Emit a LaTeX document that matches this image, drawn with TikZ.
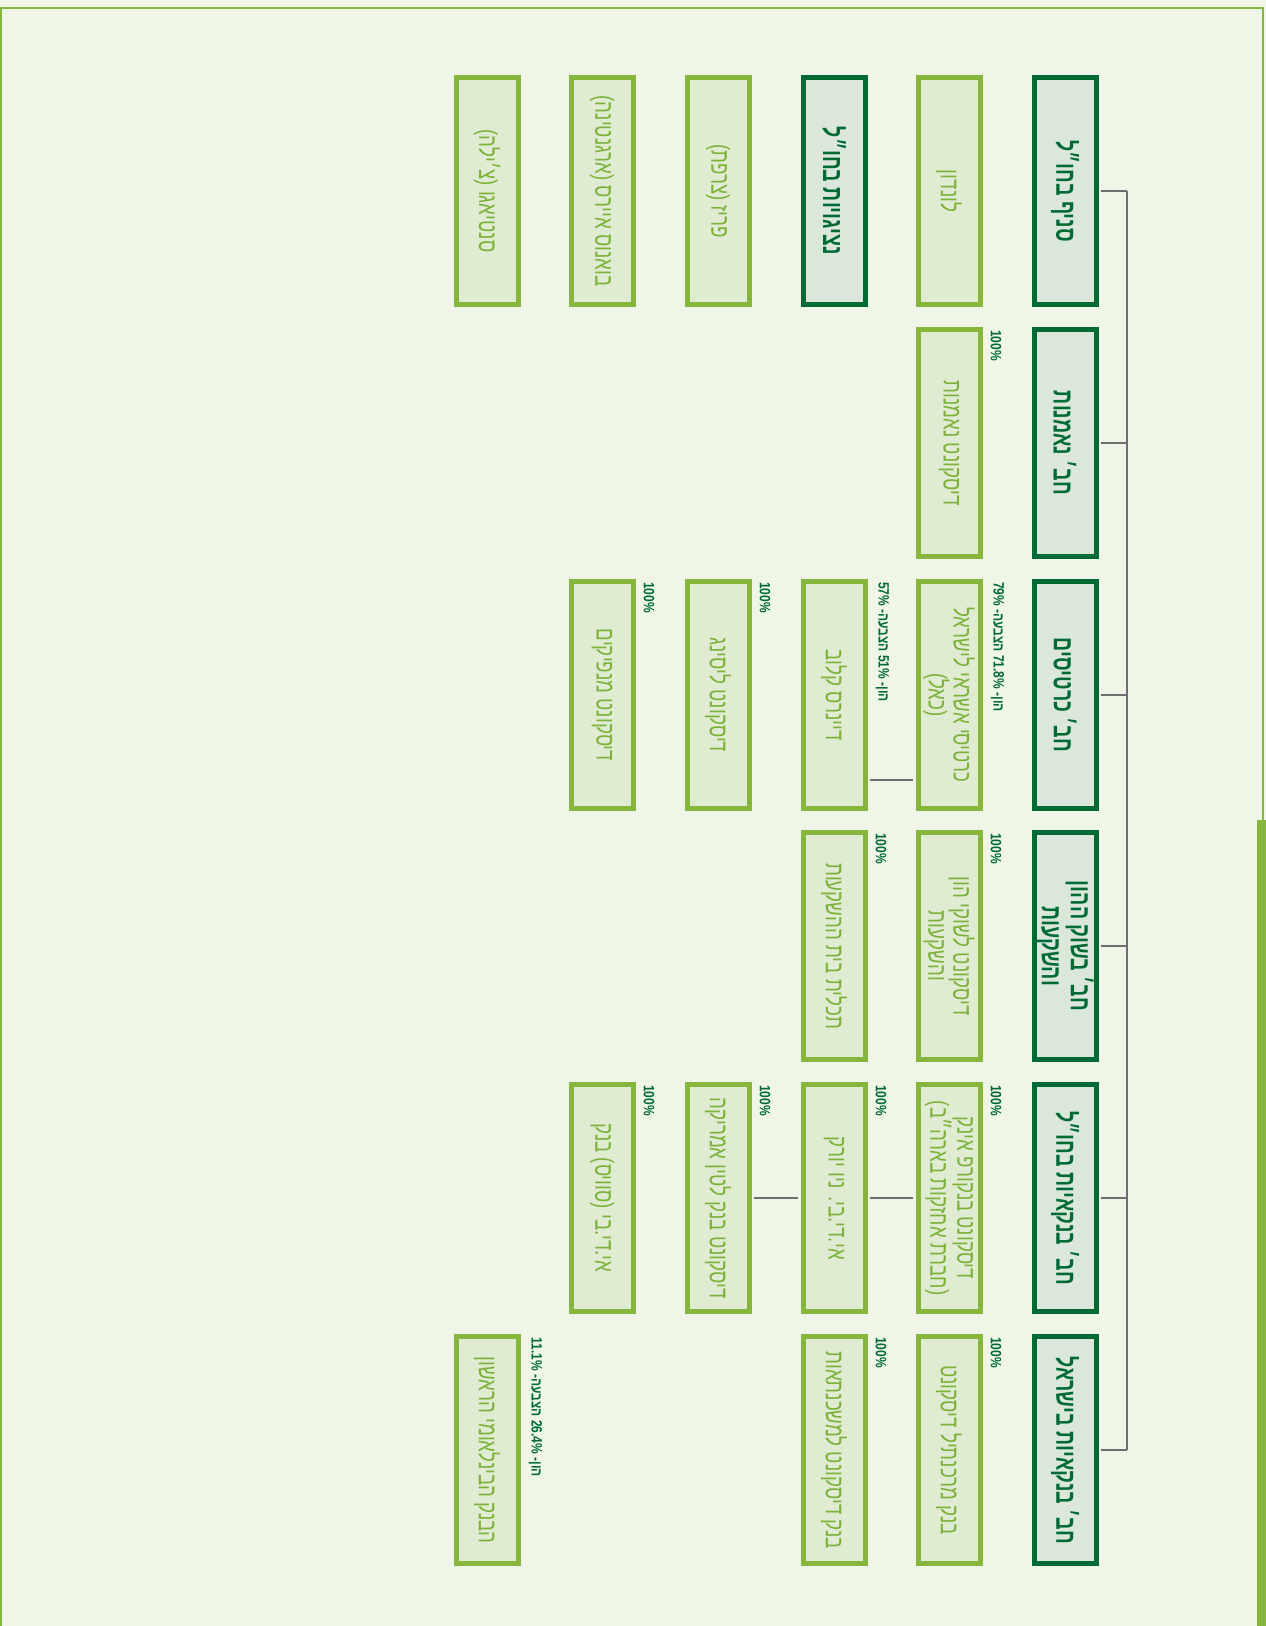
\documentclass[tikz,border=0pt]{standalone}
\usepackage{fontspec}
\usepackage{tikz}
\usetikzlibrary{positioning, calc}
\TeXXeTstate=1
\newfontfamily\hebfont[Script=Hebrew,FakeStretch=0.72]{Liberation Sans}
\newfontfamily\grpfont[Script=Hebrew,FakeStretch=0.7]{Liberation Sans}
\newfontfamily\labfont[Script=Hebrew,FakeStretch=0.8]{Liberation Sans}
\newcommand{\heb}[1]{\beginR #1\endR}
\newcommand{\hv}[2]{\beginR הון- \beginL #1\%\endL{} הצבעה- \beginL #2\%\endL\endR}
\definecolor{pagebg}{HTML}{EFF5E7}
\definecolor{dkgreen}{HTML}{006A35}
\definecolor{grpfill}{HTML}{DAE7DA}
\definecolor{ltgreen}{HTML}{86B73C}
\definecolor{cofill}{HTML}{E0ECD2}
\definecolor{cotext}{HTML}{7CB13A}
\definecolor{linkgray}{HTML}{6E6E6E}
\tikzset{
  grp/.style={draw=dkgreen, line width=5pt, fill=grpfill, text=dkgreen, rotate=-90,
    minimum width=227pt, minimum height=62pt, inner sep=2pt, align=center,
    font=\grpfont\bfseries\fontsize{28}{29}\selectfont},
  co/.style={draw=ltgreen, line width=5pt, fill=cofill, text=cotext, rotate=-90,
    minimum width=227pt, minimum height=62pt, inner sep=2pt, align=center,
    font=\hebfont\fontsize{26}{25}\selectfont},
  pct/.style={text=dkgreen, rotate=-90, anchor=south west, inner sep=0pt,
    font=\labfont\bfseries\fontsize{15}{16}\selectfont},
  conn/.style={draw=linkgray, line width=1.2pt},
}
\begin{document}
\begin{tikzpicture}[x=1pt, y=-1pt]
  \useasboundingbox (0,0) rectangle (1266,1626);
  \fill[pagebg] (0,0) rectangle (1266,1626);
  % frame
  \draw[ltgreen, line width=2pt] (1,1626) -- (1,8) -- (1263,8) -- (1263,820);
  \fill[ltgreen] (1257,820) rectangle (1266,1626);

  % groups
  \node[grp] (g1) at (1065,191) {\heb{סניף בחו״ל}};
  \node[grp] (g2) at (1065,443) {\heb{חב׳ נאמנות}};
  \node[grp] (g3) at (1065,695) {\heb{חב׳ כרטיסים}};
  \node[grp] (g4) at (1065,946) {\heb{חב׳ בשוק ההון}\\\heb{והשקעות}};
  \node[grp] (g5) at (1065,1198) {\heb{חב׳ בנקאיות בחו״ל}};
  \node[grp] (g6) at (1065,1450) {\heb{חב׳ בנקאיות בישראל}};

  % companies
  \node[co] (london) at (949,191) {\heb{לונדון}};
  \node[co] (trust) at (949,443) {\heb{דיסקונט נאמנות}};
  \node[co] (cal) at (949,695) {\heb{כרטיסי אשראי לישראל}\\\heb{(כאל)}};
  \node[co] (dcm) at (949,946) {\heb{דיסקונט לשוקי הון}\\\heb{והשקעות}};
  \node[co] (bancorp) at (949,1198) {\heb{דיסקונט בנקורפ אינק}\\\heb{(חברת אחזקות בארה״ב)}};
  \node[co] (merc) at (949,1450) {\heb{בנק מרכנתיל דיסקונט}};

  \node[grp] (reps) at (834,191) {\heb{נציגויות בחו״ל}};
  \node[co] (diners) at (834,695) {\heb{דיינרס קלוב}};
  \node[co] (takh) at (834,946) {\heb{תכלית בית ההשקעות}};
  \node[co] (idbny) at (834,1198) {\heb{אי.די.בי. ניו יורק}};
  \node[co] (mortg) at (834,1450) {\heb{בנק דיסקונט למשכנתאות}};

  \node[co] (paris) at (718,191) {\heb{פריז (צרפת)}};
  \node[co] (leasing) at (718,695) {\heb{דיסקונט ליסינג}};
  \node[co] (dbla) at (718,1198) {\heb{דיסקונט בנק לטין אמריקה}};

  \node[co] (baires) at (602,191) {\heb{בואנוס איירס (ארגנטינה)}};
  \node[co] (issuers) at (602,695) {\heb{דיסקונט מנפיקים}};
  \node[co] (swiss) at (602,1198) {\heb{אי.די.בי (סוויס) בנק}};

  \node[co] (santiago) at (487,191) {\heb{סנטיאגו (צ׳ילה)}};
  \node[co] (fibi) at (487,1450) {\heb{הבנק הבינלאומי הראשון}};

  % holdings
  \node[pct] at ($(trust.north west)+(8,3)$) {100\%};
  \node[pct] at ($(cal.north west)+(8,3)$) {\hv{71.8}{79}};
  \node[pct] at ($(dcm.north west)+(8,3)$) {100\%};
  \node[pct] at ($(bancorp.north west)+(8,3)$) {100\%};
  \node[pct] at ($(merc.north west)+(8,3)$) {100\%};
  \node[pct] at ($(diners.north west)+(8,3)$) {\hv{51}{57}};
  \node[pct] at ($(takh.north west)+(8,3)$) {100\%};
  \node[pct] at ($(idbny.north west)+(8,3)$) {100\%};
  \node[pct] at ($(mortg.north west)+(8,3)$) {100\%};
  \node[pct] at ($(leasing.north west)+(8,3)$) {100\%};
  \node[pct] at ($(dbla.north west)+(8,3)$) {100\%};
  \node[pct] at ($(issuers.north west)+(8,3)$) {100\%};
  \node[pct] at ($(swiss.north west)+(8,3)$) {100\%};
  \node[pct] at ($(fibi.north west)+(8,3)$) {\hv{26.4}{11.1}};

  % links
  \coordinate (busT) at (1127,191);
  \coordinate (busB) at (1127,1450);
  \draw[conn] (busT) -- (busB);
  \foreach \g in {g1,g2,g3,g4,g5,g6}
    \draw[conn, shorten <=2.5pt] (\g.north) -- (\g.north -| busT);
  \coordinate (calTap) at ($(cal.south)+(0,85)$);
  \draw[conn, shorten <=2.5pt, shorten >=2.5pt] (calTap) -- (calTap -| diners.north);
  \draw[conn, shorten <=2.5pt, shorten >=2.5pt] (bancorp.south) -- (idbny.north);
  \draw[conn, shorten <=2.5pt, shorten >=2.5pt] (idbny.south) -- (dbla.north);
\end{tikzpicture}
\end{document}
